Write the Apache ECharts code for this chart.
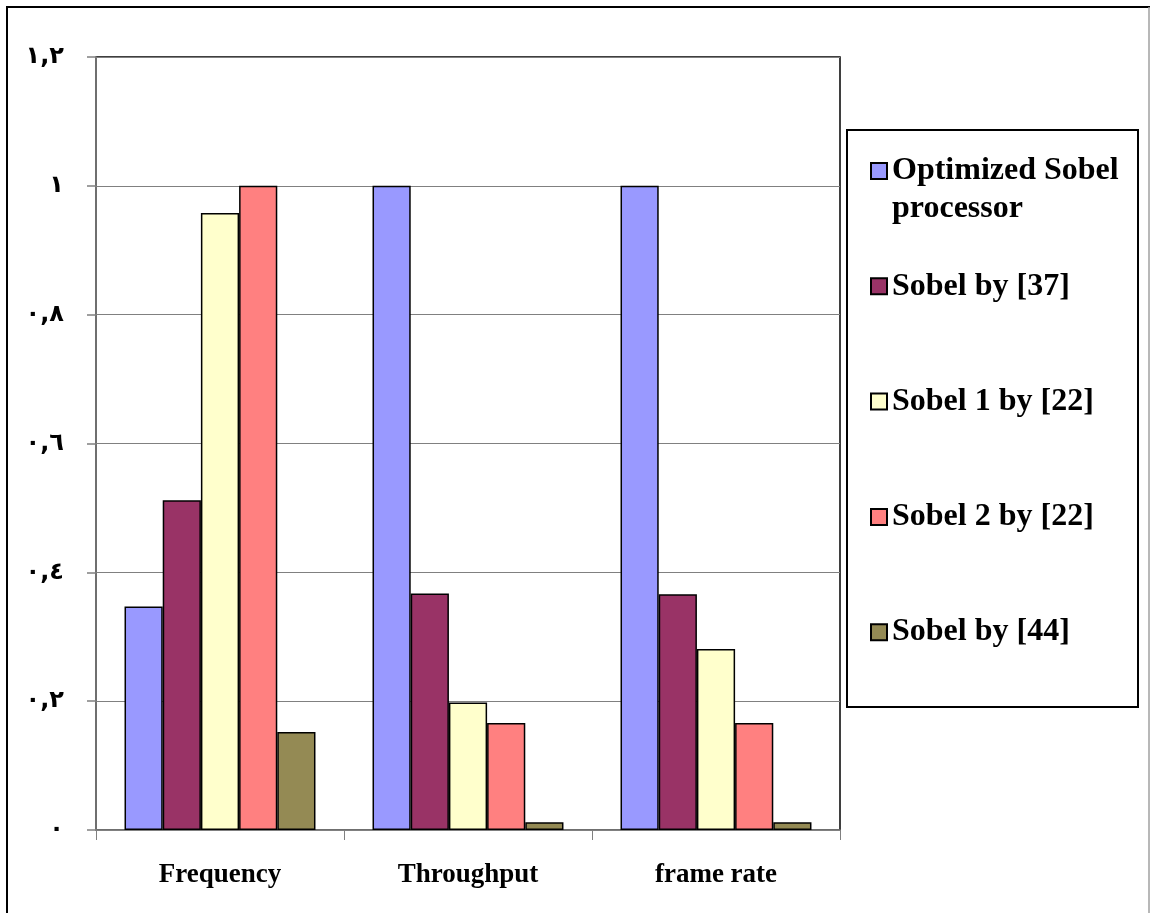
<!DOCTYPE html>
<html>
<head>
<meta charset="utf-8">
<title>Sobel processor comparison</title>
<script src="https://cdn.jsdelivr.net/npm/echarts@6/dist/echarts.min.js"></script>
<style>
  html, body { margin: 0; padding: 0; background: #ffffff; }
  #chart { width: 1150px; height: 913px; }
</style>
</head>
<body>
<div id="chart"></div>
<script>
// Categories and normalised values per design
const categories = ['Frequency', 'Throughput', 'frame rate'];
const seriesNames = [
  'Optimized Sobel processor',
  'Sobel by [37]',
  'Sobel 1 by [22]',
  'Sobel 2 by [22]',
  'Sobel by [44]'
];
const optimizedSobel = [0.347, 1.0, 1.0];
const sobel37 = [0.512, 0.367, 0.366];
const sobel1by22 = [0.958, 0.198, 0.281];
const sobel2by22 = [1.0, 0.166, 0.166];
const sobel44 = [0.152, 0.012, 0.012];
const seriesValues = [optimizedSobel, sobel37, sobel1by22, sobel2by22, sobel44];
const seriesColors = ['#9999FF', '#993366', '#FFFFCC', '#FF8080', '#948A54'];

// Y axis range
const yMin = 0, yMax = 1.2, yStep = 0.2;

// Arabic-Indic digits with a comma as decimal separator,
// wrapped in a left-to-right override so the digits keep their order
const arabicDigits = '٠١٢٣٤٥٦٧٨٩';
function arabicNumber(v) {
  const s = String(Math.round(v * 10) / 10);
  const t = s.replace(/\d/g, d => arabicDigits[+d]).replace('.', ',');
  return '\u202D' + t + '\u202C';
}

// Legend entries are three lines tall with the name on the middle line,
// so every icon sits beside the first line of its label
function legendLabel(name) {
  if (name === 'Optimized Sobel processor') {
    return ' \nOptimized Sobel\nprocessor';
  }
  return ' \n' + name + '\n ';
}

const serif = "'Liberation Serif', 'Times New Roman', serif";

const chart = echarts.init(document.getElementById('chart'), null, { renderer: 'canvas' });

const series = seriesNames.map((name, i) => ({
  name: name,
  type: 'bar',
  data: seriesValues[i],
  barGap: '0%',
  barCategoryGap: '23%',
  itemStyle: {
    color: seriesColors[i],
    borderColor: '#000000',
    borderWidth: 1.5
  },
  emphasis: { disabled: true }
}));

chart.setOption({
  backgroundColor: '#ffffff',
  animation: false,
  grid: {
    left: 96,
    right: 310,
    top: 57,
    bottom: 83,
    show: true,
    borderColor: '#000000',
    borderWidth: 1.5,
    backgroundColor: 'transparent'
  },
  xAxis: {
    type: 'category',
    data: categories,
    axisLine: { lineStyle: { color: '#808080', width: 1.5 } },
    axisTick: { show: true, length: 10, lineStyle: { color: '#808080', width: 1 } },
    axisLabel: {
      color: '#000000',
      fontFamily: serif,
      fontWeight: 'bold',
      fontSize: 27,
      margin: 32
    },
    splitLine: { show: false }
  },
  yAxis: {
    type: 'value',
    min: yMin,
    max: yMax,
    interval: yStep,
    axisLine: { show: true, lineStyle: { color: '#808080', width: 1.5 } },
    axisTick: { show: true, length: 9, lineStyle: { color: '#808080', width: 1.5 } },
    axisLabel: {
      color: '#000000',
      fontFamily: "'DejaVu Sans', sans-serif",
      fontWeight: 'bold',
      fontSize: 24,
      margin: 32,
      formatter: arabicNumber
    },
    splitLine: { show: true, lineStyle: { color: '#808080', width: 1 } }
  },
  legend: {
    orient: 'vertical',
    left: 848,
    top: 114,
    padding: [0, 0, 0, 22],
    itemGap: 1.3,
    itemWidth: 16,
    itemHeight: 16,
    icon: 'rect',
    data: seriesNames,
    formatter: legendLabel,
    textStyle: {
      color: '#000000',
      fontFamily: serif,
      fontWeight: 'bold',
      fontSize: 32,
      lineHeight: 38
    },
    selectedMode: false
  },
  graphic: [
    // outer frame: left and top black, right grey
    { type: 'line', shape: { x1: 7, y1: 7, x2: 7, y2: 913 }, style: { stroke: '#000000', lineWidth: 2 }, silent: true },
    { type: 'line', shape: { x1: 6, y1: 7, x2: 1150, y2: 7 }, style: { stroke: '#000000', lineWidth: 2 }, silent: true },
    { type: 'line', shape: { x1: 1149, y1: 7, x2: 1149, y2: 913 }, style: { stroke: '#a0a0a0', lineWidth: 1.5 }, silent: true },
    // legend frame
    { type: 'rect', shape: { x: 847, y: 130, width: 291, height: 577 }, style: { fill: 'none', stroke: '#000000', lineWidth: 2 }, silent: true, z: -1 }
  ],
  series: series
});
</script>
</body>
</html>
